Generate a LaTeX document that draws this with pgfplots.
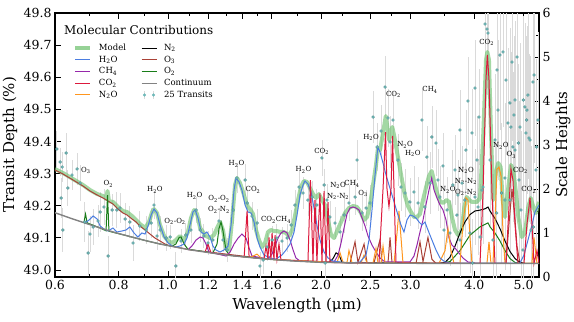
\documentclass[border=0pt]{standalone}
\usepackage{fontspec}
\setmainfont{DejaVu Serif}
\usepackage{pgfplots}
\pgfplotsset{compat=1.18}

\definecolor{modelgreen}{RGB}{115,195,115}
\definecolor{h2oblue}{RGB}{75,125,225}
\definecolor{ch4purple}{RGB}{150,40,170}
\definecolor{co2red}{RGB}{220,25,60}
\definecolor{n2oorange}{RGB}{255,150,30}
\definecolor{o3brown}{RGB}{170,65,55}
\definecolor{o2green}{RGB}{25,125,25}
\definecolor{contgray}{RGB}{130,130,130}
\definecolor{dotteal}{RGB}{110,185,185}
\definecolor{errgray}{RGB}{218,218,218}

\newcommand{\lab}[1]{\fontsize{7}{7.5}\selectfont #1}

\begin{document}
\begin{tikzpicture}
\pgfplotsset{
  every axis/.append style={
    width=484pt, height=264pt, scale only axis,
    xmode=log, xmin=0.6, xmax=5.361,
    tick align=inside, major tick length=6pt, minor tick length=3pt,
    every tick/.style={black, line width=0.7pt},
    axis line style={line width=1.1pt},
    /pgf/number format/assume math mode=true,
    tick label style={font=\fontsize{12.5}{14}\selectfont},
    label style={font=\fontsize{15}{17}\selectfont},
  },
}
% left axis: transit depth
\begin{axis}[name=ax,
  ymin=48.978, ymax=49.8,
  ytick={49.0,49.1,49.2,49.3,49.4,49.5,49.6,49.7,49.8},
  yticklabels={49.0,49.1,49.2,49.3,49.4,49.5,49.6,49.7,49.8},
  ytick pos=left,
  xtick={0.6,0.8,1.0,1.2,1.4,1.6,2.0,2.5,3.0,4.0,5.0},
  xticklabels={0.6,0.8,1.0,1.2,1.4,1.6,2.0,2.5,3.0,4.0,5.0},
  minor xtick={0.7,0.9,1.1,1.3,1.5,1.8,2.2,2.75,3.5,4.5},
  xlabel={Wavelength (μm)}, ylabel={Transit Depth (\%)},
  xlabel style={at={(axis description cs:0.5,0)}, anchor=center, yshift=-28pt},
  ylabel style={at={(axis description cs:-0.093,0.5)}, anchor=center, rotate=0},
]
\end{axis}

% right axis: scale heights, holds the data
\begin{axis}[
  ymin=0, ymax=6, ytick={0,1,2,3,4,5,6},
  minor y tick num=1,
  axis y line*=right, hide x axis,
  ylabel={Scale Heights},
  ylabel style={at={(axis description cs:1.05,0.5)}, anchor=center},
  legend columns=2,
  legend cell align=left,
  legend image code/.code={\draw[#1] (0pt,0pt) -- (15pt,0pt);},
  legend style={at={(0,1)}, anchor=north west, xshift=15pt, yshift=-28pt,
    draw=none, fill=none, font=\fontsize{8.5}{9}\selectfont,
    row sep=1.8pt,
    nodes={inner sep=0.8pt, text height=6.3pt, text depth=2pt},
    /tikz/column 1/.style={column sep=6pt},
    /tikz/column 2/.style={column sep=14pt},
    /tikz/column 3/.style={column sep=6pt}},
]
\addlegendimage{modelgreen, opacity=0.75, line width=4pt}\addlegendentry{Model}
\addlegendimage{black, line width=1pt}\addlegendentry{N\textsubscript{2}}
\addlegendimage{h2oblue, line width=1pt}\addlegendentry{H\textsubscript{2}O}
\addlegendimage{o3brown, line width=1pt}\addlegendentry{O\textsubscript{3}}
\addlegendimage{ch4purple, line width=1pt}\addlegendentry{CH\textsubscript{4}}
\addlegendimage{o2green, line width=1pt}\addlegendentry{O\textsubscript{2}}
\addlegendimage{co2red, line width=1pt}\addlegendentry{CO\textsubscript{2}}
\addlegendimage{contgray, line width=1.4pt}\addlegendentry{Continuum}
\addlegendimage{n2oorange, line width=1pt}\addlegendentry{N\textsubscript{2}O}
\addlegendimage{legend image code/.code={
  \draw[errgray, line width=0.9pt] (3pt,-4pt) -- (3pt,4pt);
  \draw[errgray, line width=0.9pt] (12pt,-4pt) -- (12pt,4pt);
  \fill[dotteal] (3pt,0pt) circle (1.4pt);
  \fill[dotteal] (12pt,0pt) circle (1.4pt);}}
\addlegendentry{25 Transits}

% observed points
\addplot[forget plot, only marks, mark=*, mark size=1.5pt,
  mark options={fill=dotteal, draw=dotteal!75!black, line width=0.3pt},
  error bars/.cd, y dir=both, y explicit, error mark=none,
  error bar style={errgray, line width=0.9pt}]
coordinates {
(0.605,2.909) +- (0,0.409) (0.614,2.614) +- (0,0.318) (0.620,2.500) +- (0,0.341)
(0.631,2.818) +- (0,0.455) (0.622,1.068) +- (0,0.500) (0.617,1.795) +- (0,0.455)
(0.636,2.023) +- (0,0.409) (0.648,2.318) +- (0,0.341) (0.663,2.455) +- (0,0.364)
(0.672,2.136) +- (0,0.409) (0.687,1.250) +- (0,0.455) (0.697,0.545) +- (0,0.500)
(0.703,0.977) +- (0,0.409) (0.713,1.136) +- (0,0.409) (0.729,1.273) +- (0,0.364)
(0.736,1.477) +- (0,0.455) (0.749,1.591) +- (0,0.409) (0.763,0.477) +- (0,0.455)
(0.777,1.523) +- (0,0.364) (0.794,1.523) +- (0,0.409) (0.805,1.568) +- (0,0.341)
(0.824,1.318) +- (0,0.364) (0.842,1.250) +- (0,0.364) (0.854,0.773) +- (0,0.409)
(0.881,1.159) +- (0,0.341) (0.906,1.068) +- (0,0.318) (0.927,1.227) +- (0,0.341)
(0.939,1.636) +- (0,0.318) (0.952,0.932) +- (0,0.318) (0.965,1.068) +- (0,0.318)
(0.992,0.886) +- (0,0.295) (1.010,0.909) +- (0,0.273) (1.037,0.250) +- (0,0.318)
(1.061,0.818) +- (0,0.273) (1.085,0.955) +- (0,0.273) (1.110,1.068) +- (0,0.295)
(1.136,1.523) +- (0,0.295) (1.157,1.068) +- (0,0.273) (1.177,0.932) +- (0,0.273)
(1.199,0.773) +- (0,0.273) (1.226,0.841) +- (0,0.273) (1.260,1.273) +- (0,0.295)
(1.283,0.841) +- (0,0.273) (1.307,0.614) +- (0,0.273) (1.343,1.523) +- (0,0.318)
(1.367,2.250) +- (0,0.341) (1.418,2.205) +- (0,0.364) (1.431,1.682) +- (0,0.318)
(1.463,1.386) +- (0,0.318) (1.497,1.227) +- (0,0.318) (1.517,0.250) +- (0,0.318)
(1.538,0.386) +- (0,0.318) (1.566,0.682) +- (0,0.318) (1.602,0.841) +- (0,0.318)
(1.638,0.886) +- (0,0.318) (1.676,0.818) +- (0,0.318) (1.715,0.886) +- (0,0.318)
(1.746,1.182) +- (0,0.341) (1.777,1.636) +- (0,0.341) (1.810,2.045) +- (0,0.364)
(1.843,1.909) +- (0,0.364) (1.885,1.750) +- (0,0.364) (1.920,1.818) +- (0,0.364)
(1.963,1.636) +- (0,0.364) (2.008,2.705) +- (0,0.409) (2.027,2.091) +- (0,0.364)
(2.054,1.750) +- (0,0.364) (2.036,0.318) +- (0,0.364) (2.082,1.364) +- (0,0.364)
(2.130,1.227) +- (0,0.364) (2.179,1.023) +- (0,0.364) (2.219,1.409) +- (0,0.409)
(2.269,1.682) +- (0,0.409) (2.332,1.818) +- (0,0.409) (2.353,2.659) +- (0,0.455)
(2.407,1.455) +- (0,0.409) (2.451,1.568) +- (0,0.409) (2.495,1.682) +- (0,0.409)
(2.530,3.636) +- (0,0.600) (2.576,2.955) +- (0,0.550) (2.623,3.318) +- (0,0.600)
(2.671,4.318) +- (0,0.700) (2.707,3.614) +- (0,0.650) (2.732,3.068) +- (0,0.600)
(2.769,3.568) +- (0,0.650) (2.832,2.659) +- (0,0.600) (2.871,2.045) +- (0,0.550)
(2.924,1.909) +- (0,0.550) (2.990,1.705) +- (0,0.550) (3.045,1.932) +- (0,0.600)
(3.101,1.682) +- (0,0.600) (3.157,3.568) +- (0,0.700) (3.200,1.591) +- (0,0.600)
(3.274,2.136) +- (0,0.700) (3.303,3.182) +- (0,0.700) (3.229,2.727) +- (0,0.700)
(3.364,3.045) +- (0,0.750) (3.425,1.818) +- (0,0.700) (3.472,2.523) +- (0,0.750)
(3.536,1.523) +- (0,0.750) (3.584,1.000) +- (0,0.750) (3.632,2.091) +- (0,0.800)
(3.699,1.409) +- (0,0.800) (3.750,0.841) +- (0,0.850) (3.784,2.136) +- (0,0.850)
(3.835,1.750) +- (0,0.850) (3.888,4.000) +- (0,1.000) (3.923,1.000) +- (0,0.900)
(3.959,3.273) +- (0,1.000) (4.013,4.295) +- (0,1.100) (4.049,2.659) +- (0,1.000)
(4.086,3.636) +- (0,1.100) (4.142,1.977) +- (0,1.100) (4.199,5.750) +- (0,1.500)
(4.237,5.636) +- (0,1.500) (4.256,5.545) +- (0,1.500) (4.295,2.659) +- (0,1.500)
(4.353,0.841) +- (0,1.500) (4.393,3.114) +- (0,1.500) (4.453,3.795) +- (0,1.600)
(4.493,5.045) +- (0,1.700) (4.555,5.114) +- (0,1.700) (4.596,1.750) +- (0,1.600)
(4.659,3.500) +- (0,1.700) (4.701,3.955) +- (0,1.700) (4.744,4.886) +- (0,1.800)
(4.722,3.409) +- (0,1.700) (4.765,2.955) +- (0,1.700) (4.809,4.023) +- (0,1.800)
(4.853,5.000) +- (0,1.900) (4.897,2.205) +- (0,1.800) (4.941,1.523) +- (0,1.800)
(4.986,0.614) +- (0,1.700) (5.031,3.864) +- (0,1.900) (5.077,3.795) +- (0,1.900)
(5.100,4.136) +- (0,1.900) (5.054,3.273) +- (0,1.900) (5.123,3.159) +- (0,1.900)
(5.170,1.068) +- (0,1.900) (5.217,4.432) +- (0,2.000) (5.241,4.591) +- (0,2.000)
(5.288,2.432) +- (0,2.000) (5.336,3.568) +- (0,2.000)
(3.394,2.205) +- (0,0.700) (3.488,1.068) +- (0,0.700) (3.666,2.432) +- (0,0.800)
(3.716,1.864) +- (0,0.800) (3.750,3.341) +- (0,0.900) (3.853,2.886) +- (0,0.900)
(3.971,0.318) +- (0,1.000) (4.013,1.818) +- (0,1.100) (4.068,1.591) +- (0,1.100)
(4.105,0.909) +- (0,1.200) (4.161,2.045) +- (0,1.300) (4.427,1.455) +- (0,1.600)
(4.433,4.705) +- (0,1.700) (4.527,1.909) +- (0,1.600) (4.596,2.250) +- (0,1.700)
(4.617,4.477) +- (0,1.700) (4.701,1.750) +- (0,1.700) (4.787,3.682) +- (0,1.800)
(4.809,2.886) +- (0,1.800) (4.882,3.045) +- (0,1.800) (4.919,3.409) +- (0,1.900)
(4.994,4.023) +- (0,1.900) (5.070,3.568) +- (0,1.900) (5.147,3.114) +- (0,1.900)
(5.225,1.136) +- (0,2.000) (5.304,2.955) +- (0,2.000)
};

% model
\addplot[forget plot, modelgreen, opacity=0.65, line width=4pt, line join=round] coordinates {
(0.600,2.455) (0.622,2.364) (0.651,2.227) (0.681,2.091) (0.703,1.977) (0.726,1.886)
(0.746,1.841) (0.756,1.773) (0.761,1.955) (0.766,1.727) (0.780,1.705) (0.798,1.591)
(0.816,1.500) (0.831,1.477) (0.850,1.386) (0.866,1.295) (0.881,1.205) (0.902,1.114)
(0.918,1.250) (0.931,1.477) (0.939,1.545) (0.952,1.455) (0.965,1.182) (0.983,0.932)
(1.001,0.818) (1.019,0.773) (1.037,0.841) (1.056,0.932) (1.076,0.841) (1.095,1.023)
(1.110,1.341) (1.126,1.523) (1.141,1.432) (1.157,1.114) (1.172,1.023) (1.188,0.932)
(1.210,0.886) (1.232,0.955) (1.249,1.114) (1.266,1.250) (1.283,1.068) (1.301,0.659)
(1.319,0.614) (1.337,1.295) (1.355,2.091) (1.367,2.250) (1.386,2.136) (1.405,1.932)
(1.424,1.705) (1.437,1.591) (1.450,1.545) (1.470,1.432) (1.490,1.068) (1.510,0.841)
(1.531,0.682) (1.552,0.773) (1.573,1.023) (1.594,1.068) (1.616,1.045) (1.638,1.045)
(1.661,1.023) (1.684,1.023) (1.707,1.000) (1.730,0.932) (1.754,1.068) (1.777,1.386)
(1.802,1.750) (1.826,2.045) (1.851,2.182) (1.877,2.159) (1.902,2.023) (1.928,1.886)
(1.955,1.795) (1.981,1.886) (2.008,1.750) (2.036,1.636) (2.064,1.295) (2.092,0.955)
(2.121,0.886) (2.150,1.045) (2.189,1.250) (2.229,1.455) (2.269,1.568) (2.311,1.614)
(2.353,1.591) (2.396,1.455) (2.429,1.295) (2.462,1.364) (2.495,1.636) (2.530,2.091)
(2.564,2.545) (2.587,2.932) (2.611,2.886) (2.647,3.273) (2.680,3.659) (2.707,3.295)
(2.719,3.114) (2.738,3.227) (2.760,3.409) (2.782,3.227) (2.816,2.886) (2.845,2.591)
(2.884,2.205) (2.924,1.841) (2.963,1.614) (3.004,1.477) (3.045,1.364) (3.087,1.364)
(3.129,1.432) (3.172,1.750) (3.214,2.023) (3.259,2.295) (3.299,2.409) (3.334,2.182)
(3.379,1.909) (3.425,1.727) (3.472,1.682) (3.531,1.750) (3.568,1.705) (3.616,1.364)
(3.666,1.068) (3.716,0.955) (3.779,1.068) (3.824,1.591) (3.865,1.818) (3.910,1.750)
(3.959,1.705) (4.044,1.705) (4.105,1.795) (4.167,3.273) (4.218,4.932) (4.243,5.114)
(4.275,4.932) (4.314,3.273) (4.359,1.750) (4.407,2.364) (4.459,2.591) (4.507,2.500)
(4.548,1.750) (4.596,1.364) (4.666,2.045) (4.722,2.545) (4.772,2.432) (4.831,1.909)
(4.882,1.364) (4.957,0.909) (5.031,1.000) (5.107,1.591) (5.163,1.795) (5.225,1.591)
(5.288,1.455) (5.361,1.705)
};

% O3
\addplot[forget plot, o3brown, line width=1pt] coordinates {
(0.600,2.432) (0.622,2.341) (0.651,2.205) (0.681,2.068) (0.703,1.955) (0.726,1.864)
(0.746,1.795) (0.763,1.727) (0.780,1.659) (0.798,1.545) (0.816,1.455) (0.831,1.409)
(0.850,1.318) (0.866,1.250) (0.881,1.159) (0.902,1.068) (0.922,0.977) (0.943,0.886)
(0.965,0.818) (0.987,0.750) (1.010,0.705) (1.033,0.685) (1.105,0.618) (1.587,0.402)
(2.280,0.320) (2.332,0.800) (2.363,0.330) (2.429,0.750) (2.462,0.330) (2.541,0.320)
(2.611,0.850) (2.635,0.320) (2.707,0.320) (2.732,0.900) (2.757,0.320) (3.073,0.310)
(3.129,0.800) (3.172,0.350) (3.244,0.900) (3.303,0.400) (3.364,0.310) (4.617,0.310)
(4.680,1.200) (4.744,2.000) (4.809,1.300) (4.853,0.700) (4.919,0.310) (5.361,0.310)
};

% O2
\addplot[forget plot, o2green, line width=1pt] coordinates {
(0.684,1.240) (0.689,1.430) (0.694,1.230) (0.736,1.114)
(0.756,1.050) (0.761,1.860) (0.766,1.040) (0.842,0.920) (0.902,0.830) (0.965,0.750)
(1.019,0.700) (1.037,0.750) (1.052,0.900) (1.061,0.910) (1.076,0.750) (1.095,0.630)
(1.226,0.550) (1.249,0.750) (1.260,1.100) (1.272,1.250) (1.283,1.050) (1.301,0.600)
(1.325,0.490) (1.587,0.402) (1.990,0.334) (3.425,0.310) (3.584,0.350) (3.750,0.600)
(3.923,0.950) (4.105,1.140) (4.256,1.230) (4.295,1.140) (4.393,1.000) (4.493,0.820)
(4.596,0.600) (4.701,0.420) (4.809,0.330) (4.919,0.310) (5.361,0.310)
};

% N2
\addplot[forget plot, black, line width=1pt] coordinates {
(2.073,0.330) (2.111,0.420) (2.140,0.550) (2.170,0.500) (2.199,0.330) (3.410,0.310)
(3.504,0.330) (3.584,0.450) (3.666,0.700) (3.750,1.000) (3.835,1.250) (3.923,1.420)
(4.013,1.500) (4.105,1.520) (4.199,1.550) (4.256,1.590) (4.295,1.500) (4.393,1.330)
(4.493,1.100) (4.596,0.820) (4.701,0.580) (4.809,0.420) (4.919,0.330) (5.031,0.310)
};

% CH4
\addplot[forget plot, ch4purple, line width=1pt] coordinates {
(1.095,0.614) (1.115,0.705) (1.136,0.841) (1.157,0.909) (1.172,0.886) (1.188,0.750)
(1.204,0.568) (1.301,0.477) (1.325,0.568) (1.349,0.750) (1.374,0.886) (1.398,0.977)
(1.424,0.886) (1.444,0.659) (1.463,0.477) (1.573,0.409) (1.602,0.523) (1.624,0.705)
(1.646,0.886) (1.668,1.000) (1.691,1.045) (1.715,1.000) (1.738,0.841) (1.762,0.614)
(1.785,0.432) (1.818,0.364) (2.121,0.341) (2.160,0.500) (2.189,0.773) (2.219,1.114)
(2.249,1.432) (2.280,1.568) (2.311,1.591) (2.342,1.568) (2.374,1.523) (2.407,1.341)
(2.440,1.159) (2.473,0.932) (2.518,0.727) (2.564,0.568) (2.611,0.432) (2.671,0.341)
(2.990,0.341) (3.045,0.477) (3.087,0.727) (3.129,1.023) (3.172,1.295) (3.214,1.636)
(3.259,1.977) (3.299,2.250) (3.334,1.977) (3.379,1.795) (3.425,1.636) (3.472,1.523)
(3.520,1.295) (3.568,0.886) (3.616,0.727) (3.666,0.659) (3.732,0.545) (3.801,0.432)
(3.888,0.341) (4.013,0.318)
};

% N2O
\addplot[forget plot, n2oorange, line width=1pt] coordinates {
(1.450,0.443) (1.497,0.520) (1.531,0.410) (2.150,0.330) (2.179,0.550) (2.209,0.330)
(2.249,0.330) (2.269,0.600) (2.300,0.330) (2.396,0.320) (2.429,0.500) (2.462,0.320)
(2.530,0.320) (2.564,0.650) (2.587,0.320) (2.623,0.320) (2.647,0.700) (2.671,0.320)
(2.782,0.320) (2.820,1.000) (2.845,1.500) (2.871,0.900) (2.897,0.320) (3.410,0.310)
(3.504,0.600) (3.552,1.100) (3.600,0.600) (3.649,0.310) (3.750,0.310) (3.801,1.200)
(3.853,1.800) (3.888,1.750) (3.923,0.900) (3.959,0.310) (4.237,0.310) (4.275,0.800)
(4.314,0.310) (4.353,0.310) (4.393,1.300) (4.433,2.450) (4.473,2.500) (4.514,2.300)
(4.555,1.000) (4.596,0.310) (5.193,0.310) (5.241,0.900) (5.288,0.500) (5.312,0.310)
(5.361,0.310)
};

% H2O
\addplot[forget plot, h2oblue, line width=1pt] coordinates {
(0.687,1.227) (0.700,1.295) (0.713,1.386) (0.726,1.318) (0.736,1.159) (0.749,1.091)
(0.763,1.045) (0.780,1.114) (0.794,1.023) (0.812,1.045) (0.827,1.068) (0.842,1.136)
(0.858,1.000) (0.873,0.909) (0.889,1.000) (0.902,0.977) (0.914,1.159) (0.927,1.409)
(0.939,1.545) (0.952,1.455) (0.965,1.182) (0.983,0.909) (1.001,0.773) (1.019,0.705)
(1.037,0.682) (1.056,0.705) (1.076,0.750) (1.090,0.886) (1.105,1.182) (1.120,1.477)
(1.131,1.523) (1.146,1.341) (1.162,1.023) (1.177,0.977) (1.193,1.023) (1.210,0.909)
(1.226,0.705) (1.243,0.614) (1.266,0.568) (1.289,0.614) (1.313,0.705) (1.331,1.182)
(1.349,1.977) (1.361,2.250) (1.380,2.159) (1.398,1.977) (1.418,1.636) (1.437,1.477)
(1.457,1.455) (1.477,1.250) (1.497,0.886) (1.517,0.682) (1.545,0.500) (1.587,0.432)
(1.631,0.409) (1.676,0.500) (1.707,0.614) (1.738,0.750) (1.770,1.023) (1.794,1.409)
(1.818,1.864) (1.843,2.091) (1.860,2.182) (1.885,2.114) (1.911,1.932) (1.937,1.568)
(1.963,1.182) (1.990,0.841) (2.027,0.568) (2.064,0.432) (2.111,0.364) (2.179,0.341)
(2.280,0.318) (2.385,0.341) (2.451,0.500) (2.484,0.841) (2.518,1.523) (2.553,2.318)
(2.585,2.955) (2.611,2.841) (2.647,2.591) (2.683,2.318) (2.719,2.091) (2.757,1.864)
(2.794,1.636) (2.832,1.409) (2.871,1.182) (2.910,1.023) (2.950,1.295) (2.990,1.409)
(3.032,1.386) (3.073,1.341) (3.115,1.250) (3.157,1.182) (3.200,1.250) (3.244,1.068)
(3.303,0.841) (3.364,0.614) (3.425,0.432) (3.504,0.341) (3.584,0.318) (4.919,0.318)
(5.009,0.500) (5.100,0.841) (5.193,1.182) (5.264,1.477) (5.361,1.636)
};

% CO2
\addplot[forget plot, co2red, line width=1pt] coordinates {
(1.183,0.567) (1.199,0.750) (1.215,0.550) (1.412,0.455) (1.431,1.500) (1.444,0.450)
(1.545,0.410) (1.559,0.700) (1.573,0.410) (1.580,0.900) (1.594,0.410) (1.602,1.000)
(1.616,0.400) (1.624,0.950) (1.638,0.400) (1.653,0.750) (1.668,0.390) (1.885,0.350)
(1.906,2.200) (1.928,0.350) (1.946,1.750) (1.963,0.350) (1.990,1.900) (2.008,0.340)
(2.027,1.950) (2.045,0.340) (2.064,1.700) (2.082,0.330) (2.599,0.315) (2.647,2.000)
(2.677,3.295) (2.695,2.000) (2.719,1.600) (2.744,2.000) (2.763,3.205) (2.782,2.000)
(2.807,0.320) (4.105,0.310) (4.161,1.900) (4.218,4.500) (4.243,5.045) (4.275,4.500)
(4.334,1.900) (4.393,0.310) (4.617,0.310) (4.680,1.600) (4.722,2.455) (4.765,2.200)
(4.809,1.200) (4.875,0.310) (5.009,0.310) (5.077,1.200) (5.147,1.800) (5.193,1.200)
(5.241,0.310) (5.312,0.600) (5.361,0.310)
};

% continuum
\addplot[forget plot, contgray, line width=1.4pt] coordinates {
(0.600,1.461) (0.642,1.341) (0.687,1.227) (0.736,1.114) (0.787,1.011) (0.842,0.920)
(0.902,0.830) (0.965,0.750) (1.033,0.682) (1.105,0.618) (1.210,0.550) (1.325,0.489)
(1.450,0.443) (1.587,0.402) (1.738,0.368) (1.990,0.334) (2.385,0.318) (3.129,0.311)
(5.361,0.307)
};

% annotations
\node[inner sep=0pt] at (axis cs:0.690,2.416) {\lab{O\textsubscript{3}}};
\node[inner sep=0pt] at (axis cs:0.764,2.114) {\lab{O\textsubscript{2}}};
\node[inner sep=0pt] at (axis cs:0.943,1.977) {\lab{H\textsubscript{2}O}};
\node[inner sep=0pt] at (axis cs:1.033,1.257) {\lab{O\textsubscript{2}-O\textsubscript{2}}};
\node[inner sep=0pt] at (axis cs:1.128,1.841) {\lab{H\textsubscript{2}O}};
\node[inner sep=0pt, align=center] at (axis cs:1.260,1.648) {\lab{O\textsubscript{2}-O\textsubscript{2}}\\[-1pt]\lab{O\textsubscript{2}-N\textsubscript{2}}};
\node[inner sep=0pt] at (axis cs:1.364,2.568) {\lab{H\textsubscript{2}O}};
\node[inner sep=0pt] at (axis cs:1.470,1.977) {\lab{CO\textsubscript{2}}};
\node[inner sep=0pt] at (axis cs:1.631,1.295) {\lab{CO\textsubscript{2}CH\textsubscript{4}}};
\node[inner sep=0pt] at (axis cs:1.847,2.432) {\lab{H\textsubscript{2}O}};
\node[inner sep=0pt] at (axis cs:2.006,2.848) {\lab{CO\textsubscript{2}}};
\node[inner sep=0pt, align=center] at (axis cs:2.16,1.955) {\lab{N\textsubscript{2}O}\\[-1pt]\lab{N\textsubscript{2}-N\textsubscript{2}}};
\node[inner sep=0pt] at (axis cs:2.300,2.114) {\lab{CH\textsubscript{4}}};
\node[inner sep=0pt] at (axis cs:2.418,1.900) {\lab{O\textsubscript{3}}};
\node[inner sep=0pt] at (axis cs:2.507,3.175) {\lab{H\textsubscript{2}O}};
\node[inner sep=0pt] at (axis cs:2.775,4.152) {\lab{CO\textsubscript{2}}};
\node[inner sep=0pt] at (axis cs:2.924,3.000) {\lab{N\textsubscript{2}O}};
\node[inner sep=0pt] at (axis cs:3.030,2.811) {\lab{H\textsubscript{2}O}};
\node[inner sep=0pt] at (axis cs:3.274,4.250) {\lab{CH\textsubscript{4}}};
\node[inner sep=0pt] at (axis cs:3.550,1.977) {\lab{N\textsubscript{2}O}};
\node[inner sep=0pt, align=center] at (axis cs:3.853,2.166) {\lab{N\textsubscript{2}O}\\[-1pt]\lab{N\textsubscript{2}-N\textsubscript{2}}\\[-1pt]\lab{O\textsubscript{2}-N\textsubscript{2}}};
\node[inner sep=0pt] at (axis cs:4.230,5.325) {\lab{CO\textsubscript{2}}};
\node[inner sep=0pt] at (axis cs:4.510,2.977) {\lab{N\textsubscript{2}O}};
\node[inner sep=0pt] at (axis cs:4.730,2.773) {\lab{O\textsubscript{3}}};
\node[inner sep=0pt] at (axis cs:4.930,2.416) {\lab{CO\textsubscript{2}}};
\node[inner sep=0pt] at (axis cs:5.120,1.977) {\lab{CO\textsubscript{2}}};

\node[anchor=west, inner sep=0pt, font=\fontsize{12}{13}\selectfont] at (rel axis cs:0.0186,0.9356) {Molecular Contributions};
\end{axis}
\pgfresetboundingbox
\path[use as bounding box] ([xshift=-55pt,yshift=-44pt]ax.south west) rectangle ([xshift=35pt,yshift=13pt]ax.north east);
\end{tikzpicture}
\end{document}
